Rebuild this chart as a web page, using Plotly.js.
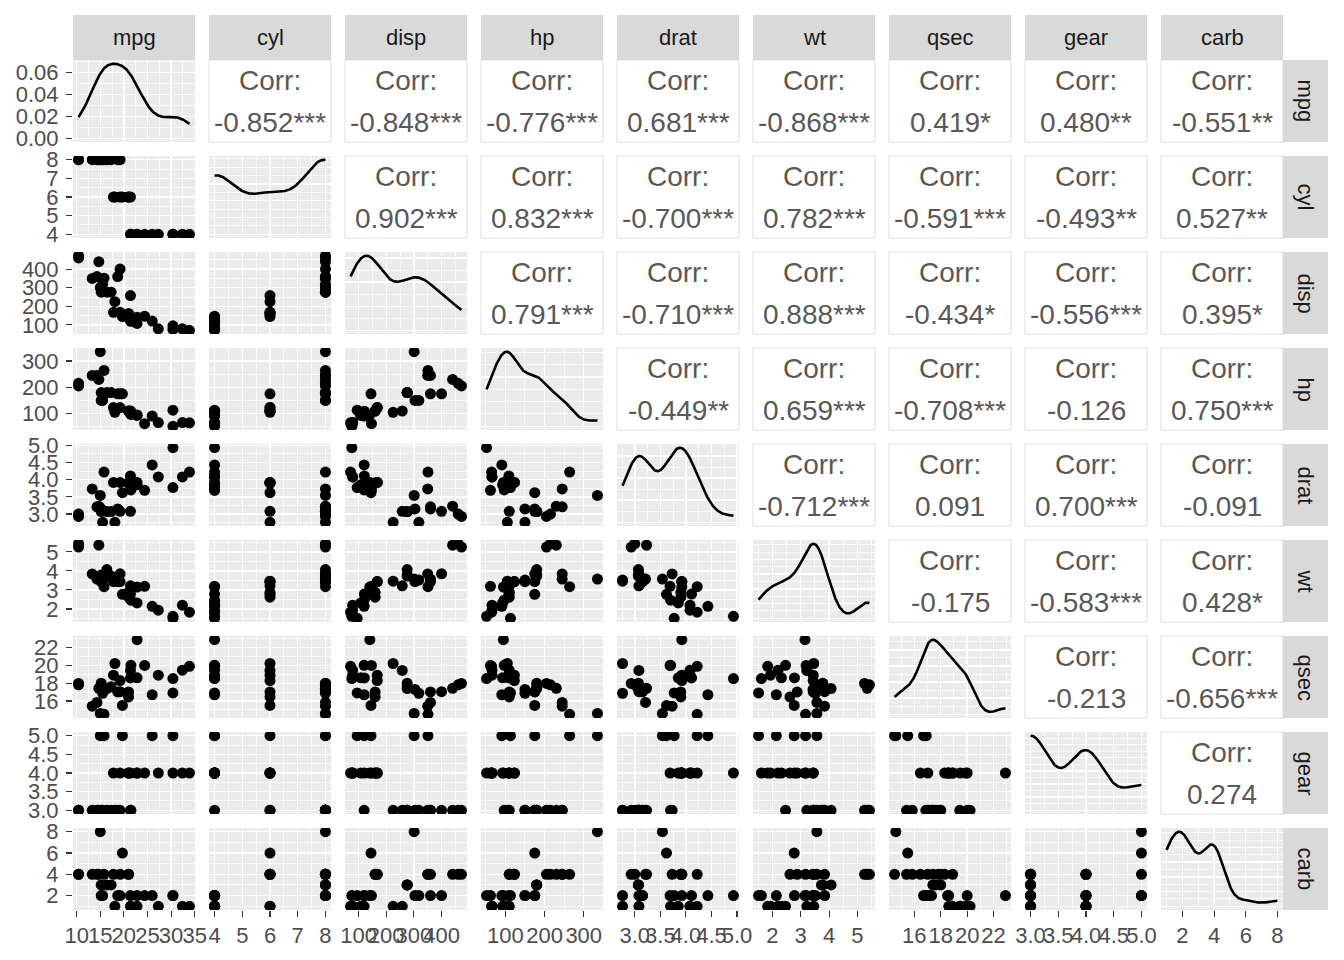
<!DOCTYPE html>
<html><head><meta charset="utf-8">
<script src="https://cdn.plot.ly/plotly-3.0.1.min.js"></script>
<style>html,body{margin:0;padding:0;background:#fff}</style>
</head><body><div id="chart" style="width:1344px;height:960px"></div>
<script>
// ---- data (mtcars) ----
const varNames = ['mpg','cyl','disp','hp','drat','wt','qsec','gear','carb'];
const mpg  = [21.0,21.0,22.8,21.4,18.7,18.1,14.3,24.4,22.8,19.2,17.8,16.4,17.3,15.2,10.4,10.4,14.7,32.4,30.4,33.9,21.5,15.5,15.2,13.3,19.2,27.3,26.0,30.4,15.8,19.7,15.0,21.4];
const cyl  = [6,6,4,6,8,6,8,4,4,6,6,8,8,8,8,8,8,4,4,4,4,8,8,8,8,4,4,4,8,6,8,4];
const disp = [160,160,108,258,360,225,360,146.7,140.8,167.6,167.6,275.8,275.8,275.8,472,460,440,78.7,75.7,71.1,120.1,318,304,350,400,79,120.3,95.1,351,145,301,121];
const hp   = [110,110,93,110,175,105,245,62,95,123,123,180,180,180,205,215,230,66,52,65,97,150,150,245,175,66,91,113,264,175,335,109];
const drat = [3.90,3.90,3.85,3.08,3.15,2.76,3.21,3.69,3.92,3.92,3.92,3.07,3.07,3.07,2.93,3.00,3.23,4.08,4.93,4.22,3.70,2.76,3.15,3.73,3.08,4.08,4.43,3.77,4.22,3.62,3.54,4.11];
const wt   = [2.620,2.875,2.320,3.215,3.440,3.460,3.570,3.190,3.150,3.440,3.440,4.070,3.730,3.780,5.250,5.424,5.345,2.200,1.615,1.835,2.465,3.520,3.435,3.840,3.845,1.935,2.140,1.513,3.170,2.770,3.570,2.780];
const qsec = [16.46,17.02,18.61,19.44,17.02,20.22,15.84,20.00,22.90,18.30,18.90,17.40,17.60,18.00,17.98,17.82,17.42,19.47,18.52,19.90,20.01,16.87,17.30,15.41,17.05,18.90,16.70,16.90,14.50,15.50,14.60,18.60];
const gear = [4,4,4,3,3,3,3,4,4,4,4,3,3,3,3,3,3,4,4,4,3,3,3,3,3,4,5,5,5,5,5,4];
const carb = [4,4,1,1,2,1,4,2,2,4,4,3,3,3,4,4,4,1,2,1,1,2,2,4,2,1,2,2,4,6,8,2];
const columns = [mpg,cyl,disp,hp,drat,wt,qsec,gear,carb];

// correlation labels, upper triangle, row by row
const corrRow1 = ['-0.852***','-0.848***','-0.776***','0.681***','-0.868***','0.419*','0.480**','-0.551**'];
const corrRow2 = ['0.902***','0.832***','-0.700***','0.782***','-0.591***','-0.493**','0.527**'];
const corrRow3 = ['0.791***','-0.710***','0.888***','-0.434*','-0.556***','0.395*'];
const corrRow4 = ['-0.449**','0.659***','-0.708***','-0.126','0.750***'];
const corrRow5 = ['-0.712***','0.091','0.700***','-0.091'];
const corrRow6 = ['-0.175','-0.583***','0.428*'];
const corrRow7 = ['-0.213','-0.656***'];
const corrRow8 = ['0.274'];
const corrRows = [corrRow1,corrRow2,corrRow3,corrRow4,corrRow5,corrRow6,corrRow7,corrRow8];

// tick settings per variable
const tickStep   = [5,1,100,100,0.5,1,2,0.5,2];
const tickFormat = ['','','','','.1f','','','.1f',''];

// ---- helpers ----
const W = 1344, H = 960;
const PX0 = 73, PY0 = 60, PW = 122, PH = 82, GAP = 14;
const colX0 = c => PX0 + c*(PW+GAP);
const rowY0 = r => PY0 + r*(PH+GAP);
const px = x => x/W;
const py = y => 1 - y/H;

function quant(sorted, p){
  const h = (sorted.length-1)*p; const lo = Math.floor(h); const hi = Math.ceil(h);
  return sorted[lo] + (h-lo)*(sorted[hi]-sorted[lo]);
}
function kde(v){
  const n = v.length;
  const mean = v.reduce((a,b)=>a+b,0)/n;
  const sd = Math.sqrt(v.reduce((a,b)=>a+(b-mean)*(b-mean),0)/(n-1));
  const s = v.slice().sort((a,b)=>a-b);
  const iqr = quant(s,0.75)-quant(s,0.25);
  let lo = Math.min(sd, iqr/1.34); if(!(lo>0)) lo = sd;
  const bw = 0.9*lo*Math.pow(n,-0.2);
  const mn = s[0], mx = s[n-1];
  const xs=[], ys=[];
  for(let i=0;i<512;i++){
    const x = mn + (mx-mn)*i/511; let d=0;
    for(const xi of v){ const z=(x-xi)/bw; d+=Math.exp(-0.5*z*z); }
    xs.push(x); ys.push(d/(n*bw*Math.sqrt(2*Math.PI)));
  }
  return {xs, ys};
}
function expRange(v){
  const mn = Math.min(...v), mx = Math.max(...v), e = 0.05*(mx-mn);
  return [mn-e, mx+e];
}
function niceStep(span){
  const raw = span/4; const mag = Math.pow(10, Math.floor(Math.log10(raw)));
  const nrm = raw/mag; const st = nrm<1.5?1:nrm<3?2:nrm<7?5:10;
  return st*mag;
}

const FONT = '"Liberation Sans", Arial, sans-serif';
const tickFont = {family: FONT, size: 22, color: '#4D4D4D'};
const layout = {
  width: W, height: H, margin: {l:0,r:0,t:0,b:0},
  paper_bgcolor: '#FFFFFF', plot_bgcolor: '#EBEBEB',
  showlegend: false, hovermode: false,
  shapes: [], annotations: []
};
const traces = [];
let ax = 0;

function axisBase(range, step, tick0, showLabels, fmt, isX){
  return {
    range: range, autorange: false, fixedrange: true,
    tick0: tick0, dtick: step, tickmode: 'linear',
    showgrid: true, gridcolor: '#FFFFFF', gridwidth: 1.4,
    minor: {tick0: tick0, dtick: step/2, showgrid: true, gridcolor: '#FFFFFF', gridwidth: 0.7, ticks: ''},
    zeroline: false, showline: false,
    showticklabels: showLabels, ticks: showLabels ? 'outside' : '',
    ticklen: 6, tickwidth: 1.1, tickcolor: '#333333',
    tickfont: tickFont, tickformat: fmt, tickangle: 0,
    ticklabelstandoff: isX ? 0 : 3
  };
}

for(let r=0;r<9;r++){
  for(let c=0;c<9;c++){
    const x0 = colX0(c), y0 = rowY0(r);
    if(c>r){
      // upper: correlation panel
      layout.shapes.push({type:'rect', xref:'paper', yref:'paper', x0:px(x0), x1:px(x0+PW), y0:py(y0+PH), y1:py(y0),
        fillcolor:'#FFFFFF', line:{color:'#EBEBEB', width:1.5}, layer:'above'});
      const cx = px(x0+PW/2), cy = py(y0+PH/2);
      layout.annotations.push({xref:'paper', yref:'paper', x:cx, y:cy, yshift:21, text:'Corr:', showarrow:false,
        xanchor:'center', yanchor:'middle', font:{family:FONT, size:28, color:'#595959'}});
      layout.annotations.push({xref:'paper', yref:'paper', x:cx, y:cy, yshift:-21, text:corrRows[r][c-r-1], showarrow:false,
        xanchor:'center', yanchor:'middle', font:{family:FONT, size:28, color:'#595959'}});
      continue;
    }
    ax++;
    const xa = 'xaxis'+ax, ya = 'yaxis'+ax;
    const xr = expRange(columns[c]);
    const xcfg = axisBase(xr, tickStep[c], 0, r===8, tickFormat[c], true);
    xcfg.domain = [px(x0), px(x0+PW)]; xcfg.anchor = 'y'+ax;
    let ycfg;
    if(c===r){
      const d = kde(columns[c]);
      const m = Math.max(...d.ys);
      const st = niceStep(m);
      ycfg = axisBase([-0.05*m, 1.05*m], st, 0, c===0, '.2f', false);
      traces.push({type:'scatter', mode:'lines', x:d.xs, y:d.ys, xaxis:'x'+ax, yaxis:'y'+ax,
        line:{color:'#000000', width:2.6}, hoverinfo:'skip'});
    } else {
      const yr = expRange(columns[r]);
      ycfg = axisBase(yr, tickStep[r], 0, c===0, tickFormat[r], false);
      traces.push({type:'scatter', mode:'markers', x:columns[c], y:columns[r], xaxis:'x'+ax, yaxis:'y'+ax,
        marker:{color:'#000000', size:11, line:{width:0}}, hoverinfo:'skip', cliponaxis:true});
    }
    ycfg.domain = [py(y0+PH), py(y0)]; ycfg.anchor = 'x'+ax;
    layout[xa] = xcfg; layout[ya] = ycfg;
  }
}

// strips
const STRIP = 45;
for(let i=0;i<9;i++){
  const x0 = colX0(i);
  layout.shapes.push({type:'rect', xref:'paper', yref:'paper', x0:px(x0), x1:px(x0+PW), y0:py(PY0), y1:py(PY0-STRIP),
    fillcolor:'#D9D9D9', line:{width:0}, layer:'above'});
  layout.annotations.push({xref:'paper', yref:'paper', x:px(x0+PW/2), y:py(PY0-STRIP/2), text:varNames[i], showarrow:false,
    xanchor:'center', yanchor:'middle', font:{family:FONT, size:22, color:'#1A1A1A'}});
  const y0 = rowY0(i), rx = colX0(8)+PW;
  layout.shapes.push({type:'rect', xref:'paper', yref:'paper', x0:px(rx), x1:px(rx+STRIP), y0:py(y0+PH), y1:py(y0),
    fillcolor:'#D9D9D9', line:{width:0}, layer:'above'});
  layout.annotations.push({xref:'paper', yref:'paper', x:px(rx+STRIP/2), y:py(y0+PH/2), text:varNames[i], showarrow:false,
    textangle:90, xanchor:'center', yanchor:'middle', font:{family:FONT, size:22, color:'#1A1A1A'}});
}

Plotly.newPlot('chart', traces, layout, {staticPlot:true, displayModeBar:false});
</script></body></html>
